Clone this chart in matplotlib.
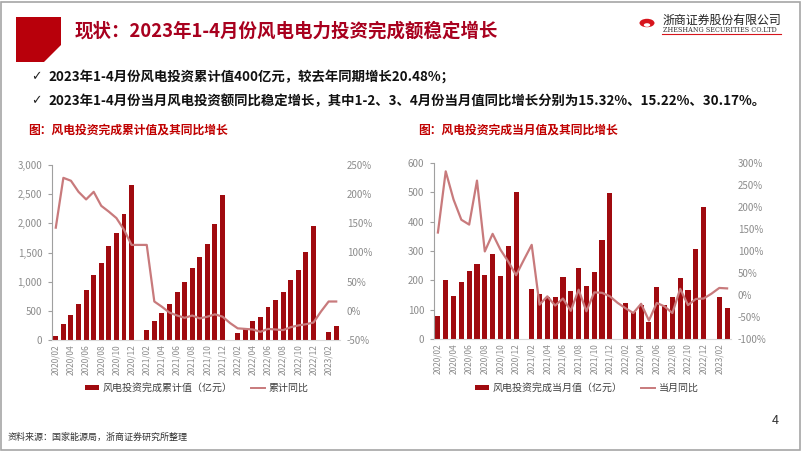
import matplotlib
matplotlib.use('Agg')
import matplotlib.pyplot as plt
from matplotlib.patches import Rectangle, Polygon, Circle, Patch
from matplotlib.lines import Line2D
import numpy as np

plt.rcParams['font.family'] = ['Noto Sans CJK SC', 'DejaVu Sans']

# Data
months = ['2020/02', '2020/03', '2020/04', '2020/05', '2020/06', '2020/07', '2020/08', '2020/09',
          '2020/10', '2020/11', '2020/12', '2021/01', '2021/02', '2021/03', '2021/04', '2021/05',
          '2021/06', '2021/07', '2021/08', '2021/09', '2021/10', '2021/11', '2021/12', '2022/01',
          '2022/02', '2022/03', '2022/04', '2022/05', '2022/06', '2022/07', '2022/08', '2022/09',
          '2022/10', '2022/11', '2022/12', '2023/01', '2023/02', '2023/03']
nan = np.nan
cum_value = [74, 274, 429, 617, 851, 1109, 1326, 1617, 1834, 2154, 2657, nan,
             166, 320, 463, 611, 823, 989, 1234, 1417, 1646, 1989, 2480, nan,
             120, 200, 326, 389, 566, 680, 823, 1034, 1206, 1514, 1960, nan,
             137, 246]
cum_yoy = [142.6, 228, 223, 204, 191, 204, 180, 170, 159, 139, 113, 113,
           113, 16, 7, -3, -8, -12, -8, -13, -10, -6, -10, -21,
           -30, -31, -32, -36, -31, -32, -33, -28, -25, -23, -20, -1,
           16, 16]
mon_value = [80, 200, 148, 193, 231, 257, 217, 290, 216, 316, 502, nan,
             170, 153, 144, 144, 212, 165, 242, 181, 227, 338, 497, nan,
             123, 91, 117, 57, 176, 116, 143, 209, 167, 306, 449, nan,
             142, 105]
mon_yoy = [142, 281, 217, 171, 160, 260, 99, 139, 103, 76, 45, 80,
           114, -22, -3, -24, -8, -36, 12, -37, 6, 5, -3, -18,
           -30, -41, -20, -58, -18, -26, -41, 14, -23, -9, -8, 3,
           16, 15]

BAR = '#A00A0F'
LINE = '#C87A7C'
GRAY = '#8C8C8C'

W, H = 802, 451
fig = plt.figure(figsize=(W / 100, H / 100), dpi=100)


def px_axes(x0, y0, x1, y1):
    return fig.add_axes([x0 / W, 1 - y1 / H, (x1 - x0) / W, (y1 - y0) / H])


# slide frame
fig.patches.append(Rectangle((1 / W, 1 / H), (W - 3) / W, (H - 3) / H, transform=fig.transFigure,
                             fill=False, edgecolor='#A6A6A6', lw=1.2))

# red title block with cut corner
pts = [(16, 17), (61, 17), (61, 45), (44, 62), (16, 62)]
fig.patches.append(Polygon([(x / W, 1 - y / H) for x, y in pts], closed=True,
                           transform=fig.transFigure, facecolor='#B8000B', edgecolor='none'))
fig.text(75 / W, 1 - 31 / H, '现状：2023年1-4月份风电电力投资完成额稳定增长', fontsize=13.3,
         fontweight='bold', color='#A8001E', va='center', ha='left')

# logo
fig.patches.append(Circle((647 / W, 1 - 23 / H), 7.5 / W, transform=fig.transFigure,
                          facecolor='#D7141C', edgecolor='none'))
fig.patches.append(Circle((647 / W, 1 - 25 / H), 3.2 / W, transform=fig.transFigure,
                          facecolor='white', edgecolor='none'))
fig.text(663 / W, 1 - 20 / H, '浙商证券股份有限公司', fontsize=8.6, color='#222222',
         va='center', ha='left')
fig.text(663 / W, 1 - 30 / H, 'ZHESHANG SECURITIES CO.LTD', fontsize=4.7, color='#333333',
         va='center', ha='left', family='DejaVu Serif')
fig.add_artist(Line2D([662 / W, 781 / W], [1 - 34 / H, 1 - 34 / H], transform=fig.transFigure,
                      color='#D7141C', lw=0.8))

# bullets
fig.text(31 / W, 1 - 77 / H, '✓', fontsize=9, color='#222222', va='center', family='DejaVu Sans')
fig.text(48 / W, 1 - 77 / H, '2023年1-4月份风电投资累计值400亿元，较去年同期增长20.48%；',
         fontsize=9.65, fontweight='bold', color='#111111', va='center')
fig.text(31 / W, 1 - 101 / H, '✓', fontsize=9, color='#222222', va='center', family='DejaVu Sans')
fig.text(48 / W, 1 - 101 / H,
         '2023年1-4月份当月风电投资额同比稳定增长，其中1-2、3、4月份当月值同比增长分别为15.32%、15.22%、30.17%。',
         fontsize=9.65, fontweight='bold', color='#111111', va='center')

fig.text(28 / W, 1 - 130 / H, '图：风电投资完成累计值及其同比增长', fontsize=8.5,
         fontweight='bold', color='#C00000', va='center')
fig.text(418 / W, 1 - 130 / H, '图：风电投资完成当月值及其同比增长', fontsize=8.5,
         fontweight='bold', color='#C00000', va='center')


def draw_chart(box, bars, line, ymax, ystep, rlim, rstep, bar_label, line_label, leg_x):
    ax = px_axes(*box)
    x = np.arange(len(months))
    ax.bar(x, bars, width=0.65, color=BAR, zorder=2)
    ax.set_xlim(-0.5, len(months) - 0.5)
    ax.set_ylim(0, ymax)
    ax.set_yticks(np.arange(0, ymax + 1, ystep))
    ax.set_yticklabels([f'{v:,}' for v in np.arange(0, ymax + 1, ystep)])
    ax.set_xticks(x[::2])
    ax.set_xticklabels(months[::2], rotation=90)
    for s in ['top', 'right']:
        ax.spines[s].set_visible(False)
    ax.spines['left'].set_color('#A0A0A0')
    ax.spines['bottom'].set_color('#D9D9D9')
    ax.tick_params(axis='y', colors=GRAY, labelsize=7, length=3, width=0.8, pad=4)
    ax.tick_params(axis='x', colors=GRAY, labelsize=6, length=0, pad=3)
    ax.tick_params(axis='y', color='#A0A0A0')

    ax2 = ax.twinx()
    ax2.plot(x, line, color=LINE, lw=1.6, zorder=3)
    ax2.set_ylim(*rlim)
    rt = np.arange(rlim[0], rlim[1] + 1, rstep)
    ax2.set_yticks(rt)
    ax2.set_yticklabels([f'{int(v)}%' for v in rt])
    for s in ax2.spines.values():
        s.set_visible(False)
    ax2.tick_params(axis='y', colors=GRAY, labelsize=7, length=0, pad=5)

    handles = [Patch(facecolor=BAR, edgecolor='none'), Line2D([], [], color=LINE, lw=1.4)]
    fig.legend(handles, [bar_label, line_label], loc='center', bbox_to_anchor=(leg_x / W, 1 - 388 / H),
               ncol=2, frameon=False, fontsize=7.2, handlelength=1.4, handleheight=0.45,
               columnspacing=1.8, handletextpad=0.4, labelcolor='#404040')
    return ax


draw_chart((52, 165, 340, 340), cum_value, cum_yoy, 3000, 500, (-50, 250), 50,
           '风电投资完成累计值（亿元）', '累计同比', 197)
draw_chart((434, 163, 731, 339), mon_value, mon_yoy, 600, 100, (-100, 300), 50,
           '风电投资完成当月值（亿元）', '当月同比', 587)

fig.text(775 / W, 1 - 421 / H, '4', fontsize=9, color='#333333', va='center', ha='center')
fig.text(8 / W, 1 - 437 / H, '资料来源：国家能源局，浙商证券研究所整理', fontsize=6.5,
         color='#333333', va='center')

fig.savefig('out.png', dpi=100)
